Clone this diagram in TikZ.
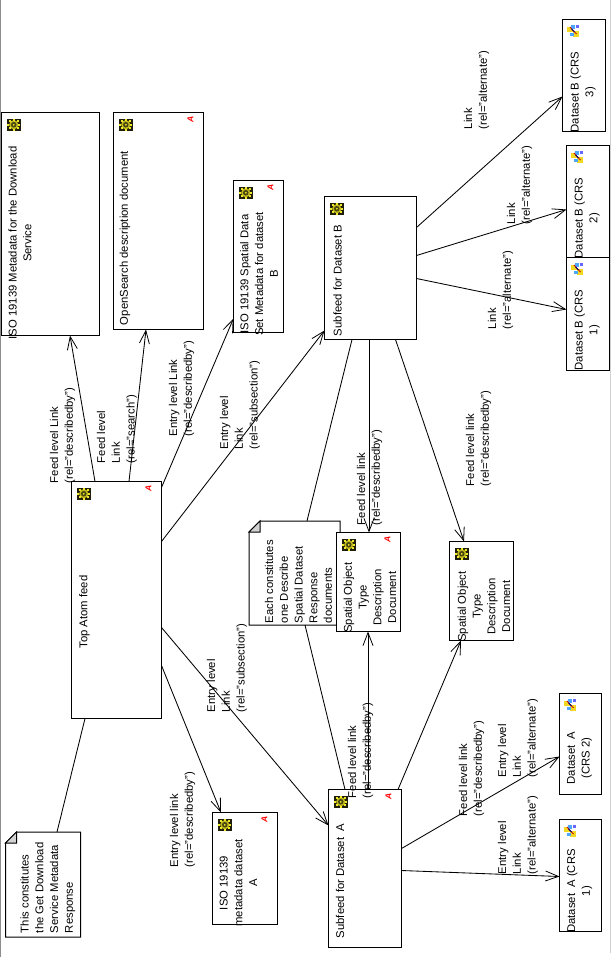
\documentclass[tikz,border=0pt]{standalone}
\usepackage{fontspec}
\setmainfont{Liberation Sans}
\usetikzlibrary{arrows.meta}
\definecolor{geary}{RGB}{240,232,40}
\definecolor{gearb}{RGB}{30,30,10}
\definecolor{foldgrey}{RGB}{210,210,210}
\definecolor{stripgrey}{RGB}{140,140,140}
\tikzset{
  x=1pt, y=-1pt,
  every node/.style={font=\fontsize{11.3}{14.7}\selectfont, inner sep=0pt, outer sep=0pt},
  docbox/.style={draw=black, line width=1pt, fill=white, rectangle, anchor=north west},
  notebox/.style={rectangle, anchor=north west},
  boxtext/.style={rotate=90, align=center, anchor=center},
  linktext/.style={rotate=90, align=left, anchor=north west},
  link/.style={draw=black, line width=0.85pt},
  arrowlink/.style={link, -{Straight Barb[length=13pt,width=10pt,line width=0.8pt]}},
  redmark/.style={rotate=90, text=red, font=\fontsize{8.5}{9}\selectfont\bfseries\itshape, anchor=center},
  gearicon/.pic={
    \fill[gearb] (0,0) rectangle (14.5,12.5);
    \fill[geary!80!black] (7.25,6.25) circle[radius=4.6];
    \foreach \a in {0,45,...,315}
      \fill[geary] ({7.25+5.6*cos(\a)-1},{6.25+5*sin(\a)-1}) rectangle +(2,2);
    \fill[gearb!80!geary] (7.25,6.25) circle[radius=2.8];
    \fill[geary] (7.25,6.25) circle[radius=1];
  },
  mapicon/.pic={
    \fill[white] (0,0) rectangle (13,12);
    \fill[geary!85!orange] (0.5,2.5) rectangle (6,7.5);
    \fill[geary!85!orange] (6.5,6.5) rectangle (12.5,12);
    \fill[blue!50!cyan!70] (4,0.5) rectangle (8,4.5);
    \fill[blue!60] (9.5,0.5) rectangle (12,3);
    \fill[blue!50!cyan!70] (3,8) rectangle (7,11.5);
    \draw[red!80!black, line width=0.8pt] (3.5,2.5) -- (10,9.5);
    \draw[blue!50!black, line width=0.8pt] (5,4.5) -- (8,7.5);
  },
}
\newcommand{\docbox}[5]{\node[docbox, minimum width=#4-#2, minimum height=#5-#3] (#1) at (#2,#3) {};}
\newcommand{\gearat}[1]{\pic at ([shift={(5,6)}]#1.north west) {gearicon};}
\newcommand{\mapat}[1]{\pic at ([shift={(4,5)}]#1.north west) {mapicon};}
\newcommand{\markat}[1]{\node[redmark] (#1-mark) at ([shift={(-13,6.5)}]#1.north east) {A};}
\begin{document}
\begin{tikzpicture}
\useasboundingbox (0,0) rectangle (611,969);
\fill[white] (0,0) rectangle (611,969);
% window edges
\draw[stripgrey, line width=1.5pt] (0.7,0) -- (0.7,957);
\draw[foldgrey, line width=0.8pt] (610,0) -- (610,953);

% dog-eared notes
\node[notebox, minimum width=91pt, minimum height=104pt] (noteEach) at (249,521) {};
\node[notebox, minimum width=75pt, minimum height=105pt] (noteGet) at (5.5,832) {};
\draw[fill=white, line width=1pt] ([shift={(11,0)}]noteEach.north west) -- (noteEach.north east) -- (noteEach.south east) -- (noteEach.south west) -- ([shift={(0,11)}]noteEach.north west) -- cycle;
\draw[fill=foldgrey, line width=1pt] ([shift={(11,0)}]noteEach.north west) -- ([shift={(0,11)}]noteEach.north west) -- ([shift={(11,11)}]noteEach.north west) -- cycle;
\draw[fill=white, line width=1pt] ([shift={(11,0)}]noteGet.north west) -- (noteGet.north east) -- (noteGet.south east) -- (noteGet.south west) -- ([shift={(0,11)}]noteGet.north west) -- cycle;
\draw[fill=foldgrey, line width=1pt] ([shift={(11,0)}]noteGet.north west) -- ([shift={(0,11)}]noteGet.north west) -- ([shift={(11,11)}]noteGet.north west) -- cycle;

% documents
\docbox{isoService}{1.5}{112.5}{99.5}{335.5}
\docbox{openSearch}{113.5}{112.5}{203.5}{329.5}
\docbox{isoB}{233.5}{180.5}{283.5}{332.5}
\docbox{subB}{324.5}{196.5}{416.5}{339.5}
\docbox{crsBthree}{562.5}{19.5}{605.5}{131.5}
\docbox{crsBtwo}{566.5}{145.5}{609.5}{257.5}
\docbox{crsBone}{566.5}{257.5}{609.5}{370.5}
\docbox{topFeed}{71.5}{481.5}{161.5}{718.5}
\docbox{sotOne}{336.5}{532.5}{400.5}{631.5}
\docbox{sotTwo}{449.5}{541.5}{513.5}{640.5}
\docbox{isoA}{212.5}{812.5}{277.5}{924.5}
\docbox{subA}{328.5}{789.5}{401.5}{947.5}
\docbox{crsAtwo}{559.5}{693.5}{601.5}{794.5}
\docbox{crsAone}{559.5}{819.5}{601.5}{931.5}

% icons
\foreach \b in {isoService,openSearch,isoB,subB,topFeed,sotOne,sotTwo,isoA,subA}{\gearat{\b}}
\foreach \b in {crsBthree,crsBtwo,crsBone,crsAtwo,crsAone}{\mapat{\b}}
\foreach \b in {openSearch,isoB,topFeed,sotOne,isoA,subA}{\markat{\b}}

% connectors
\draw[arrowlink] ([shift={(23.5,0)}]topFeed.north west) -- ([shift={(68.5,0)}]isoService.south west);
\draw[arrowlink] ([shift={(57.5,0)}]topFeed.north west) -- ([shift={(32.5,0)}]openSearch.south west);
\draw[arrowlink] ([shift={(0,6)}]topFeed.north east) -- ([shift={(0,-14)}]isoB.south west);
\draw[arrowlink] ([shift={(0,60)}]topFeed.north east) -- ([shift={(0,-9)}]subB.south west);
\draw[arrowlink] ([shift={(0,-53)}]topFeed.south east) -- ([shift={(8.5,0)}]isoA.north west);
\draw[arrowlink] ([shift={(0,-91)}]topFeed.south east) -- ([shift={(0,36)}]subA.north west);
\draw[link] ([shift={(51.5,0)}]noteGet.north west) -- ([shift={(13.5,0)}]topFeed.south west);
\draw[arrowlink] ([shift={(0,31)}]subB.north east) -- ([shift={(0,-35)}]crsBthree.south west);
\draw[arrowlink] ([shift={(0,59)}]subB.north east) -- ([shift={(0,64)}]crsBtwo.north west);
\draw[arrowlink] ([shift={(0,-61)}]subB.south east) -- ([shift={(0,52)}]crsBone.north west);
\draw[link] ([shift={(27.5,0)}]subB.south west) -- ([shift={(58,0)}]noteEach.north west);
\draw[arrowlink] ([shift={(44.5,0)}]subB.south west) -- ([shift={(32.5,0)}]sotOne.north west);
\draw[arrowlink] ([shift={(71,0)}]subB.south west) -- ([shift={(14.5,0)}]sotTwo.north west);
\draw[link] ([shift={(56,0)}]noteEach.south west) -- ([shift={(16.5,0)}]subA.north west);
\draw[arrowlink, line width=1pt] ([shift={(39.5,0)}]subA.north west) -- ([shift={(31.5,0)}]sotOne.south west);
\draw[arrowlink] ([shift={(69.5,0)}]subA.north west) -- ([shift={(11.5,0)}]sotTwo.south west);
\draw[arrowlink] ([shift={(0,59)}]subA.north east) -- ([shift={(0,-38)}]crsAtwo.south west);
\draw[arrowlink] ([shift={(0,81)}]subA.north east) -- ([shift={(0,57)}]crsAone.north west);

% texts inside the documents
\node[boxtext] (tIsoService) at (20,243) {ISO 19139 Metadata for the Download\\Service};
\node[boxtext] (tOpenSearch) at (125,238) {OpenSearch description document};
\node[boxtext] (tIsoB) at (259,274) {ISO 19139 Spatial Data\\Set Metadata for dataset\\B};
\node[boxtext] (tSubB) at (337.5,280.5) {Subfeed for Dataset B};
\node[boxtext] (tCrsBthree) at (583,92) {Dataset B (CRS\\3)};
\node[boxtext] (tCrsBtwo) at (587,218) {Dataset B (CRS\\2)};
\node[boxtext] (tCrsBone) at (587,330) {Dataset B (CRS\\1)};
\node[boxtext] (tTop) at (84.5,612) {Top Atom feed};
\node[boxtext] (tSotOne) at (370,597.5) {Spatial Object\\Type\\Description\\Document};
\node[boxtext] (tSotTwo) at (484,606.5) {Spatial Object\\Type\\Description\\Document};
\node[boxtext] (tIsoA) at (238.5,883) {ISO 19139\\metadata dataset\\A};
\node[boxtext] (tSubA) at (340,881) {Subfeed for Dataset\ \ A};
\node[boxtext] (tCrsAtwo) at (579.5,758) {Dataset\ \ A\\(CRS 2)};
\node[boxtext] (tCrsAone) at (579.5,891) {Dataset\ \ A (CRS\\1)};

% note texts
\node[linktext] (tNoteEach) at (265,623) {Each constitutes\\one Describe\\Spatial Dataset\\Response\\documents};
\node[linktext] (tNoteGet) at (20.5,933) {This constitutes\\the Get Download\\Service Metadata\\Response};

% link labels
\node[linktext] (l1) at (50,483) {Feed level Link\\(rel="describedby")};
\node[linktext] (l2) at (97,463) {Feed level\\Link\\(rel="search")};
\node[linktext] (l3) at (169,436) {Entry level Link\\(rel="describedby")};
\node[linktext] (l4) at (220,449) {Entry level\\Link\\(rel="subsection")};
\node[linktext] (l5) at (464,129) {Link\\(rel="alternate")};
\node[linktext] (l6) at (507,224) {Link\\(rel="alternate")};
\node[linktext] (l7) at (488,329) {Link\\(rel="alternate")};
\node[linktext] (l8) at (466,486) {Feed level link\\(rel="describedby")};
\node[linktext] (l9) at (357,525) {Feed level link\\(rel="describedby")};
\node[linktext] (l10) at (348,798) {Feed level link\\(rel="describedby")};
\node[linktext] (l11) at (459,816) {Feed level link\\(rel="describedby")};
\node[linktext] (l12) at (498,777) {Entry level\\Link\\(rel="alternate")};
\node[linktext] (l13) at (498,874) {Entry level\\Link\\(rel="alternate")};
\node[linktext] (l14) at (207,712) {Entry level\\Link\\(rel="subsection")};
\node[linktext] (l15) at (170,867) {Entry level link\\(rel="describedby")};
\end{tikzpicture}
\end{document}
